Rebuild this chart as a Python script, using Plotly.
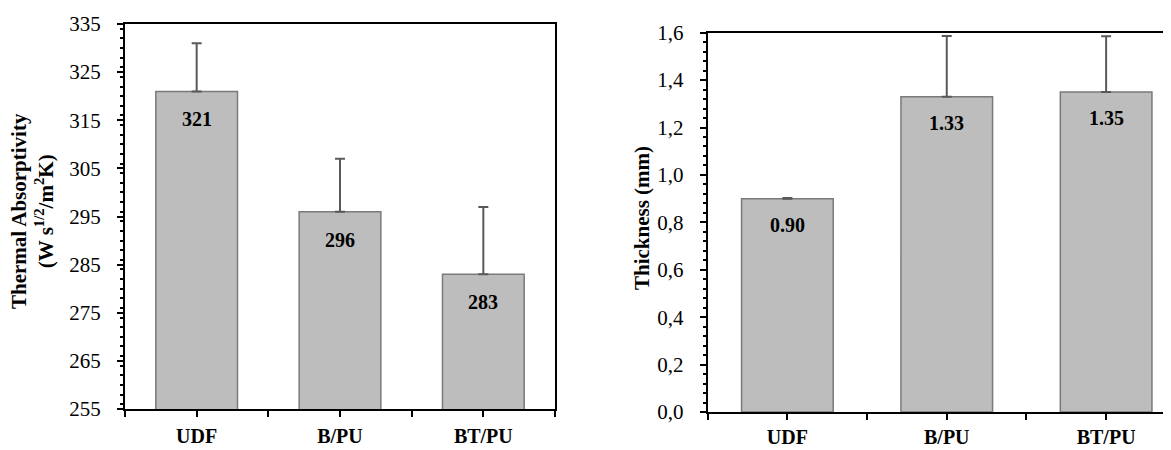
import plotly.graph_objects as go

categories = ["UDF", "B/PU", "BT/PU"]
absorptivity = [321, 296, 283]
absorptivity_err = [10, 11, 14]
absorptivity_labels = ["321", "296", "283"]
thickness = [0.90, 1.33, 1.35]
thickness_err = [0.003, 0.256, 0.235]
thickness_labels = ["0.90", "1.33", "1.35"]

# page shows the figure with an 8px body offset
OFF = 8
W, H = 1171 - OFF, 450 - OFF
def fx(px):
    return (px - OFF) / W
def fy(py):
    return 1 - (py - OFF) / H

FONT = "Liberation Serif"
BAR_FILL = "#bdbdbd"
BAR_EDGE = "#7a7a7a"
ERR_COL = "#595959"

xpos = list(range(len(categories)))
xlabels = ["<b>%s</b>" % c for c in categories]
half_ticks = [i - 0.5 for i in range(len(categories) + 1)]

fig = go.Figure()

fig.add_trace(go.Bar(
    x=xpos, y=absorptivity, width=0.57,
    marker=dict(color=BAR_FILL, line=dict(color=BAR_EDGE, width=1.5)),
    error_y=dict(type="data", array=absorptivity_err, arrayminus=[0]*3, symmetric=False,
                 color=ERR_COL, thickness=2, width=5),
    showlegend=False, xaxis="x", yaxis="y"))

fig.add_trace(go.Bar(
    x=xpos, y=thickness, width=0.575,
    marker=dict(color=BAR_FILL, line=dict(color=BAR_EDGE, width=1.5)),
    error_y=dict(type="data", array=thickness_err, arrayminus=[0]*3, symmetric=False,
                 color=ERR_COL, thickness=2, width=5),
    showlegend=False, xaxis="x2", yaxis="y2"))

axis_common = dict(showline=True, linecolor="black", linewidth=2, showgrid=False,
                   zeroline=False, ticks="outside", tickcolor="black", tickwidth=2)
xminor = dict(tickvals=half_ticks, ticklen=6, ticks="outside", tickcolor="black",
              tickwidth=2, showgrid=False)

fig.update_layout(
    width=W, height=H,
    margin=dict(l=0, r=0, t=0, b=0),
    paper_bgcolor="white", plot_bgcolor="white",
    separators=",.",
    font=dict(family=FONT, color="black", size=20),
    xaxis=dict(domain=[fx(125), fx(555)], range=[-0.5, 2.5], anchor="y",
               tickvals=xpos, ticktext=xlabels, ticklen=6, mirror=True, minor=xminor,
               tickfont=dict(family=FONT, size=20), ticklabelstandoff=2, automargin=False,
               **axis_common),
    yaxis=dict(domain=[fy(409), fy(24)], range=[255, 335], anchor="x",
               dtick=10, tick0=255, ticklen=6, mirror=True,
               tickfont=dict(family=FONT, size=21), ticklabelstandoff=12, automargin=False,
               minor=dict(dtick=2, ticklen=3, ticks="outside", tickcolor="black", tickwidth=1.5),
               **axis_common),
    xaxis2=dict(domain=[fx(707.7), 1.0], range=[-0.5, 2.407], anchor="y2",
                tickvals=xpos, ticktext=xlabels, ticklen=6, mirror=True, minor=xminor,
                tickfont=dict(family=FONT, size=20), ticklabelstandoff=0, automargin=False,
                **axis_common),
    yaxis2=dict(domain=[fy(412), fy(32.7)], range=[0, 1.6], anchor="x2",
                dtick=0.2, tick0=0, tickformat=".1f", ticklen=6, mirror=False,
                tickfont=dict(family=FONT, size=21), ticklabelstandoff=12, automargin=False,
                minor=dict(dtick=0.04, ticklen=3, ticks="outside", tickcolor="black", tickwidth=1.5),
                **axis_common),
)

annotations = []
for i, (v, lab) in enumerate(zip(absorptivity, absorptivity_labels)):
    annotations.append(dict(x=i, y=v, xref="x", yref="y", text="<b>%s</b>" % lab,
                            showarrow=False, yshift=-28, font=dict(family=FONT, size=20)))
for i, (v, lab) in enumerate(zip(thickness, thickness_labels)):
    annotations.append(dict(x=i, y=v, xref="x2", yref="y2", text="<b>%s</b>" % lab,
                            showarrow=False, yshift=-26, font=dict(family=FONT, size=20)))

annotations.append(dict(x=fx(33), y=fy(211), xref="paper", yref="paper",
                        text="<b>Thermal Absorptivity<br>(W s<sup>1/2</sup>/m<sup>2</sup>K)</b>",
                        textangle=-90, showarrow=False, font=dict(family=FONT, size=21),
                        xanchor="center", yanchor="middle"))
annotations.append(dict(x=fx(642), y=fy(218), xref="paper", yref="paper",
                        text="<b>Thickness (mm)</b>",
                        textangle=-90, showarrow=False, font=dict(family=FONT, size=21),
                        xanchor="center", yanchor="middle"))
fig.update_layout(annotations=annotations)

fig.write_html("out.html")
